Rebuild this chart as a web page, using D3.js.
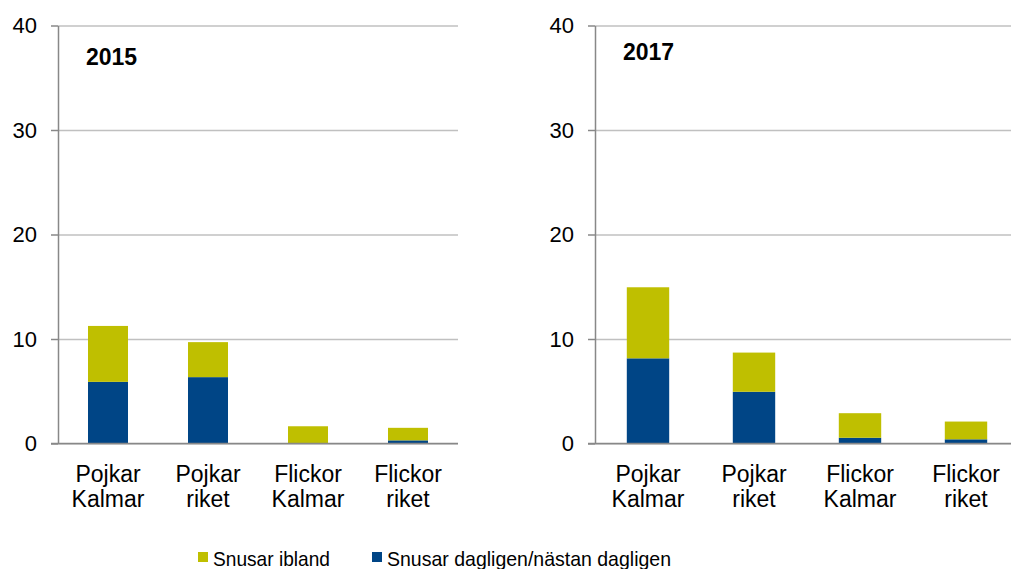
<!DOCTYPE html>
<html>
<head>
<meta charset="utf-8">
<script src="https://cdn.jsdelivr.net/npm/d3@7"></script>
<style>
  body { margin: 0; background: #fff; }
  svg { font-family: "Liberation Sans", Arial, sans-serif; }
</style>
</head>
<body>
<svg width="1011" height="569"></svg>
<script>
const categories = [["Pojkar", "Kalmar"], ["Pojkar", "riket"], ["Flickor", "Kalmar"], ["Flickor", "riket"]];
const years = ["2015", "2017"];
const daily2015 = [5.9, 6.35, 0, 0.3];
const sometimes2015 = [5.35, 3.35, 1.65, 1.2];
const daily2017 = [8.15, 4.95, 0.55, 0.4];
const sometimes2017 = [6.8, 3.75, 2.35, 1.7];
const yTicks = [0, 10, 20, 30, 40];
const seriesNames = ["Snusar ibland", "Snusar dagligen/nästan dagligen"];

const colors = { daily: "#004586", sometimes: "#bfbf00" };
const font = "'Liberation Sans', Arial, sans-serif";

const svg = d3.select("svg");

// panel placement
const panels = [
  { year: years[0], daily: daily2015, sometimes: sometimes2015, x0: 58, x1: 458, titleX: 86, titleY: 65 },
  { year: years[1], daily: daily2017, sometimes: sometimes2017, x0: 595, x1: 1019, titleX: 623, titleY: 60 }
];

const y = d3.scaleLinear().domain([0, 40]).range([443.5, 25.5]);

panels.forEach(p => {
  const g = svg.append("g");
  const keys = categories.map(c => c.join(" "));
  const x = d3.scaleBand().domain(keys).range([p.x0, p.x1]).paddingInner(0.6).paddingOuter(0.3);

  // gridlines
  g.append("g")
    .attr("transform", `translate(${p.x0},0)`)
    .call(d3.axisLeft(y).tickValues(yTicks).tickSize(-(p.x1 - p.x0)).tickFormat(""))
    .call(s => s.select(".domain").remove())
    .call(s => s.selectAll("line").attr("stroke", "#c0c0c0").attr("stroke-width", 1.3));

  // y axis
  g.append("g")
    .attr("transform", `translate(${p.x0},0)`)
    .call(d3.axisLeft(y).tickValues(yTicks).tickSize(7).tickPadding(14).tickSizeOuter(0))
    .call(s => s.select(".domain").attr("stroke", "#888").attr("stroke-width", 1.5))
    .call(s => s.selectAll(".tick line").attr("stroke", "#888").attr("stroke-width", 1.5))
    .call(s => s.selectAll("text").attr("font-size", 22).attr("fill", "#000")
      .attr("font-family", font));

  // stacked bars
  const rows = keys.map((k, i) => ({ key: k, daily: p.daily[i], sometimes: p.sometimes[i] }));
  const stacked = d3.stack().keys(["daily", "sometimes"])(rows);
  g.append("g").selectAll("g")
    .data(stacked)
    .join("g")
    .attr("fill", d => colors[d.key])
    .selectAll("rect")
    .data(d => d)
    .join("rect")
    .attr("x", d => x(d.data.key))
    .attr("width", x.bandwidth())
    .attr("y", d => y(d[1]))
    .attr("height", d => y(d[0]) - y(d[1]));

  // baseline
  g.append("line")
    .attr("x1", p.x0 - 7).attr("x2", p.x1)
    .attr("y1", y(0)).attr("y2", y(0))
    .attr("stroke", "#888").attr("stroke-width", 1.5);

  // category labels
  const cx = (d, i) => x(keys[i]) + x.bandwidth() / 2;
  const lab = g.append("g").selectAll("text")
    .data(categories)
    .join("text")
    .attr("text-anchor", "middle")
    .attr("font-size", 23);
  lab.append("tspan").attr("x", cx).attr("y", 481.5).text(d => d[0]);
  lab.append("tspan").attr("x", cx).attr("y", 506.5).text(d => d[1]);

  // year title
  g.append("text")
    .attr("x", p.titleX).attr("y", p.titleY)
    .attr("font-size", 23).attr("font-weight", "bold")
    .text(p.year);
});

// legend
const legend = svg.append("g");
const legendItems = [
  { name: seriesNames[0], color: colors.sometimes, x: 198, w: 117 },
  { name: seriesNames[1], color: colors.daily, x: 372, w: 284 }
];
legendItems.forEach(it => {
  legend.append("rect").attr("x", it.x).attr("y", 552).attr("width", 10).attr("height", 10).attr("fill", it.color);
  legend.append("text").attr("x", it.x + 15).attr("y", 565.5).attr("font-size", 21)
    .attr("textLength", it.w).attr("lengthAdjust", "spacingAndGlyphs").text(it.name);
});
</script>
</body>
</html>
